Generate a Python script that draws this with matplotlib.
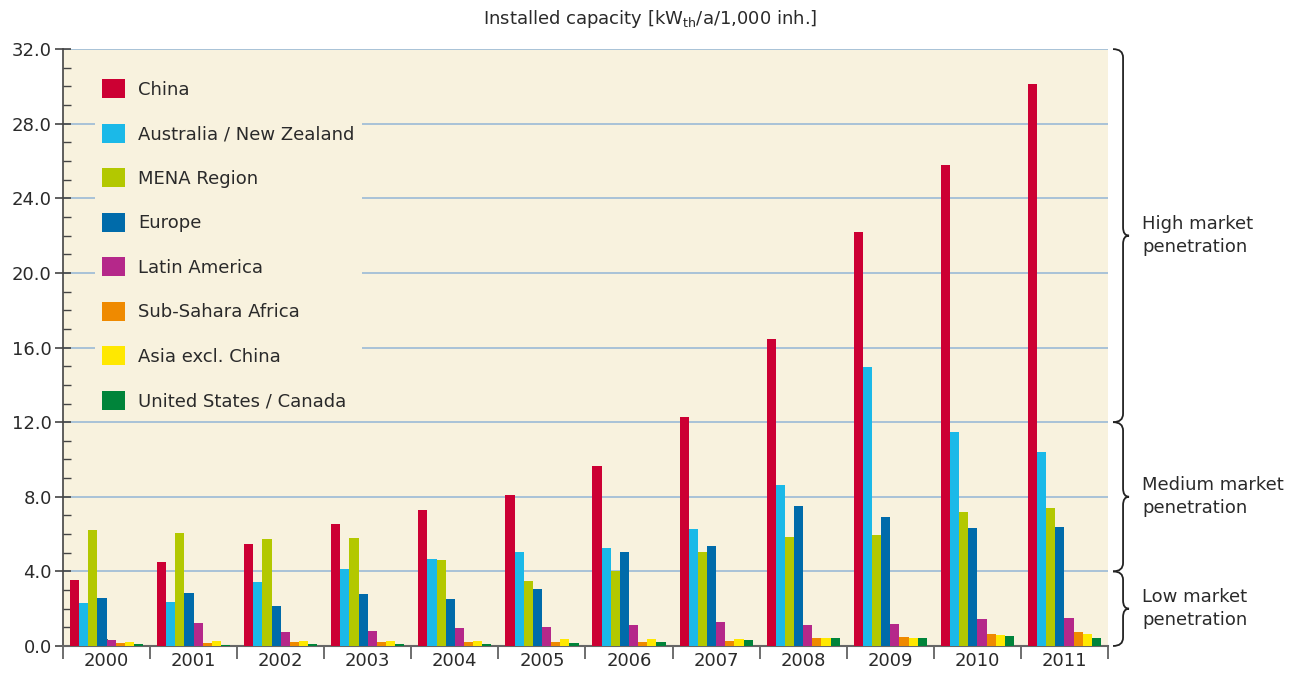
import matplotlib.pyplot as plt
import numpy as np
from matplotlib.path import Path
from matplotlib.patches import PathPatch
from matplotlib.transforms import blended_transform_factory

years = ['2000', '2001', '2002', '2003', '2004', '2005',
         '2006', '2007', '2008', '2009', '2010', '2011']

regions = ['China', 'Australia / New Zealand', 'MENA Region', 'Europe',
           'Latin America', 'Sub-Sahara Africa', 'Asia excl. China',
           'United States / Canada']

china = [3.55, 4.5, 5.47, 6.54, 7.29, 8.09, 9.65, 12.27, 16.45, 22.19, 25.78, 30.12]
australia_nz = [2.3, 2.36, 3.43, 4.13, 4.66, 5.04, 5.25, 6.27, 8.63, 14.95, 11.47, 10.4]
mena = [6.22, 6.06, 5.74, 5.79, 4.61, 3.48, 4.02, 5.04, 5.84, 5.95, 7.18, 7.4]
europe = [2.57, 2.84, 2.14, 2.79, 2.52, 3.05, 5.04, 5.36, 7.5, 6.91, 6.32, 6.38]
latin_america = [0.32, 1.23, 0.75, 0.8, 0.96, 1.02, 1.13, 1.29, 1.13, 1.18, 1.45, 1.5]
sub_sahara = [0.16, 0.16, 0.21, 0.21, 0.21, 0.21, 0.21, 0.27, 0.43, 0.48, 0.64, 0.75]
asia_excl_china = [0.21, 0.27, 0.27, 0.27, 0.27, 0.38, 0.38, 0.38, 0.43, 0.43, 0.59, 0.64]
us_canada = [0.11, 0.05, 0.11, 0.11, 0.11, 0.16, 0.21, 0.32, 0.43, 0.43, 0.54, 0.43]

series = [china, australia_nz, mena, europe, latin_america,
          sub_sahara, asia_excl_china, us_canada]
colors = ['#CC0033', '#1BB9E8', '#B3C800', '#006BAA',
          '#B5288A', '#EF8A00', '#FFE800', '#00843A']

bands = [(12, 32, 'High market\npenetration'),
         (4, 12, 'Medium market\npenetration'),
         (0, 4, 'Low market\npenetration')]

bg = '#F8F2DE'
grid_col = '#9BBAD6'
text_col = '#2A2A2A'

plt.rcParams['font.family'] = 'DejaVu Sans'

fig = plt.figure(figsize=(13.04, 6.82), dpi=100)
ax = fig.add_axes([0.0483, 0.0528, 0.8014, 0.8752])
ax.set_facecolor(bg)

x_pos = np.arange(len(years))
width = 0.105
for k, (vals, col, name) in enumerate(zip(series, colors, regions)):
    offset = -0.42 + width * (k + 0.5)
    ax.bar(x_pos + offset, vals, width, color=col, label=name,
           linewidth=0, zorder=3)

ax.set_xlim(-0.5, len(years) - 0.5)
ax.set_ylim(0, 32)

ax.set_yticks(np.arange(0, 33, 4))
ax.set_yticklabels(['%.1f' % v for v in np.arange(0, 33, 4)])
ax.set_yticks(np.arange(0, 33, 1), minor=True)
ax.yaxis.grid(True, which='major', color=grid_col, linewidth=1.2, zorder=1)
ax.set_axisbelow(True)

ax.set_xticks(x_pos)
ax.set_xticklabels(years)
ax.set_xticks(np.arange(-0.5, len(years), 1), minor=True)

ax.tick_params(axis='y', which='major', direction='inout', length=12,
               width=1.2, color='#444444', labelsize=13, labelcolor=text_col, pad=2)
ax.tick_params(axis='y', which='minor', direction='in', length=6,
               width=1, color='#444444')
ax.tick_params(axis='x', which='major', direction='in', length=5,
               width=1.2, color='#444444', labelsize=13, labelcolor=text_col, pad=4)
ax.tick_params(axis='x', which='minor', direction='out', length=9,
               width=1.2, color='#555555')

for side in ['top', 'right']:
    ax.spines[side].set_visible(False)
ax.spines['left'].set_color('#444444')
ax.spines['left'].set_linewidth(1.2)
ax.spines['bottom'].set_color('#666666')
ax.spines['bottom'].set_linewidth(1.5)

leg = ax.legend(loc='upper left', bbox_to_anchor=(0.022, 0.977), fontsize=13,
                frameon=True, facecolor=bg, edgecolor='none', framealpha=1,
                handlelength=1.25, handleheight=1.25, handletextpad=0.75,
                labelspacing=1.38, borderpad=0.4, labelcolor=text_col)
leg.set_zorder(4)

fig.text(0.499, 0.972, r'Installed capacity [kW$_\mathrm{th}$/a/1,000 inh.]',
         ha='center', va='center', fontsize=13, color=text_col)

# braces on the right
trans = blended_transform_factory(ax.transAxes, ax.transData)
x_end, x_stem, x_tip = 1.0048, 1.0144, 1.0201
r = 0.45
for y0, y1, label in bands:
    ym = (y0 + y1) / 2
    verts = [(x_end, y0), (x_stem, y0), (x_stem, y0 + r),
             (x_stem, ym - r),
             (x_stem, ym), (x_tip, ym),
             (x_stem, ym), (x_stem, ym + r),
             (x_stem, y1 - r),
             (x_stem, y1), (x_end, y1)]
    codes = [Path.MOVETO, Path.CURVE3, Path.CURVE3,
             Path.LINETO,
             Path.CURVE3, Path.CURVE3,
             Path.CURVE3, Path.CURVE3,
             Path.LINETO,
             Path.CURVE3, Path.CURVE3]
    ax.add_patch(PathPatch(Path(verts, codes), transform=trans, fill=False,
                           edgecolor='#222222', linewidth=1.3, clip_on=False))
    ax.text(1.0325, ym, label, transform=trans, ha='left', va='center',
            fontsize=13, color=text_col, linespacing=1.35)

fig.savefig('out.png', dpi=100, facecolor='white')
